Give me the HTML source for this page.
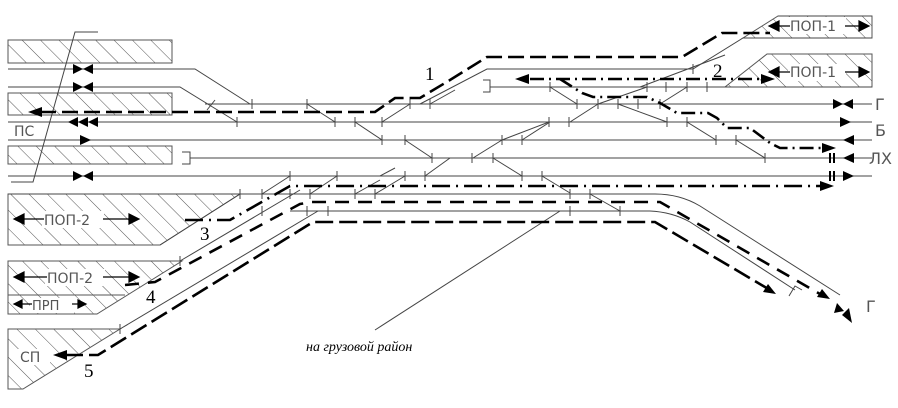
<!DOCTYPE html>
<html><head><meta charset="utf-8"><style>
html,body{margin:0;padding:0;background:#fff;}
svg{display:block;}
.t{stroke:#444;stroke-width:1;fill:none;}
.r{stroke:#000;stroke-width:2.6;fill:none;}
.lb{font-family:"DejaVu Sans","Liberation Sans",sans-serif;font-size:14px;fill:#555;}
.n{font-family:"Liberation Serif",serif;font-size:19px;fill:#000;}
</style></head><body>
<svg width="898" height="408" viewBox="0 0 898 408" xmlns="http://www.w3.org/2000/svg">
<defs>
<pattern id="h" width="13" height="13" patternUnits="userSpaceOnUse" patternTransform="rotate(-45)">
<line x1="0" y1="0" x2="0" y2="13" stroke="#555" stroke-width="1"/>
</pattern>
</defs>
<!-- hatched areas -->
<g stroke="#555" stroke-width="1">
<rect x="8" y="40" width="164" height="23" fill="url(#h)"/>
<rect x="8" y="93" width="164" height="22" fill="url(#h)"/>
<rect x="8" y="146" width="164" height="18" fill="url(#h)"/>
<polygon points="8,194 240,194 160,245 8,245" fill="url(#h)"/>
<polygon points="8,261 182,261 97,314 8,314" fill="url(#h)"/>
<line x1="8" y1="295" x2="125" y2="295"/>
<polygon points="8,329 120,329 23,389 8,389" fill="url(#h)"/>
<polygon points="778,16 872,16 872,38 743,38" fill="url(#h)"/>
<polygon points="767,54 872,54 872,87 725,87" fill="url(#h)"/>
</g>
<!-- white boxes behind labels -->
<g fill="#fff">
<rect x="42" y="211" width="62" height="17"/><rect x="45" y="269" width="60" height="17"/>
<rect x="30" y="298" width="44" height="15"/><rect x="18" y="349" width="32" height="16"/>
<rect x="788" y="17" width="58" height="17"/><rect x="788" y="64" width="58" height="17"/>
</g>
<!-- tracks -->
<g class="t">
<polyline points="8,69 195,69 250,104"/>
<polyline points="8,87 180,87 237,122"/>
<line x1="205" y1="104" x2="872" y2="104"/>
<line x1="8" y1="122" x2="872" y2="122"/>
<line x1="8" y1="140" x2="872" y2="140"/>
<polyline points="182,152 190,152 190,164 182,164"/>
<line x1="190" y1="158" x2="872" y2="158"/>
<line x1="8" y1="176" x2="872" y2="176"/>
<line x1="8" y1="194" x2="655" y2="194"/>
<path d="M655,194 Q680,194 700,206 L840,295"/>
<line x1="290" y1="211" x2="650" y2="211"/>
<path d="M650,211 Q672,212 690,222 L795,290"/>
<polyline points="789,296 795,286 802,290"/>
<line x1="180" y1="261" x2="300" y2="190"/>
<line x1="120" y1="329" x2="318" y2="211"/>
<line x1="160" y1="245" x2="240" y2="194"/>
<polyline points="483,80 490,80 490,92 483,92"/>
<line x1="490" y1="87" x2="872" y2="87"/>
<polyline points="420,104 487,69 693,69 743,38 872,38"/>
<line x1="640" y1="87" x2="725" y2="55"/>
<line x1="872" y1="16" x2="778" y2="16"/>
<!-- vertical slant -->
<polyline points="98,32 75,32 33,182 11,182"/>
<!-- leader -->
<line x1="560" y1="211" x2="375" y2="330"/>
<!-- switch diagonals -->
<line x1="207" y1="110" x2="215" y2="100"/>
<line x1="307" y1="104" x2="335" y2="122"/>
<line x1="355" y1="122" x2="382" y2="140"/>
<line x1="382" y1="122" x2="410" y2="104"/>
<line x1="430" y1="104" x2="455" y2="90"/>
<line x1="405" y1="140" x2="432" y2="158"/>
<line x1="262" y1="194" x2="290" y2="176"/>
<line x1="310" y1="194" x2="337" y2="176"/>
<line x1="375" y1="194" x2="405" y2="176"/>
<line x1="425" y1="176" x2="450" y2="158"/>
<line x1="550" y1="87" x2="577" y2="104"/>
<line x1="598" y1="104" x2="647" y2="87"/>
<line x1="660" y1="104" x2="687" y2="87"/>
<line x1="618" y1="104" x2="667" y2="122"/>
<line x1="687" y1="122" x2="716" y2="140"/>
<line x1="736" y1="140" x2="765" y2="158"/>
<line x1="570" y1="122" x2="598" y2="104"/>
<line x1="502" y1="140" x2="549" y2="122"/>
<line x1="522" y1="140" x2="550" y2="122"/>
<line x1="473" y1="158" x2="502" y2="140"/>
<line x1="493" y1="158" x2="522" y2="176"/>
<line x1="542" y1="176" x2="570" y2="193"/>
<line x1="590" y1="194" x2="620" y2="211"/>
<line x1="355" y1="194" x2="380" y2="180"/>
<line x1="380" y1="176" x2="395" y2="168"/>
</g>
<!-- ticks -->
<g stroke="#444" stroke-width="1">
<path d="M252,99v10M307,99v10M410,99v10M430,99v10M577,99v10M598,99v10M618,99v10M638,99v10M660,99v10
M237,117v10M335,117v10M355,117v10M382,117v10M549,117v10M569,117v10M667,117v10M687,117v10
M382,135v10M405,135v10M502,135v10M522,135v10M716,135v10M736,135v10
M432,153v10M472,153v10M493,153v10M765,153v10
M290,171v10M337,171v10M405,171v10M425,171v10M522,171v10M542,171v10
M240,189v10M262,189v10M290,189v10M310,189v10M355,189v10M375,189v10M570,189v10M590,189v10
M262,206v10M307,206v10M328,206v10M570,206v10M620,206v10
M550,82v10M647,82v10M666,82v10M687,82v10M707,82v10M693,64v10
M180,256v10M120,324v10"/>
</g>
<!-- track-end arrows -->
<g fill="#000">
<polygon points="73,64 73,74 83,69"/><polygon points="93,64 93,74 83,69"/>
<polygon points="73,82 73,92 83,87"/><polygon points="93,82 93,92 83,87"/>
<polygon points="68,122 78,117 78,127"/><polygon points="78,122 88,117 88,127"/><polygon points="88,122 98,117 98,127"/>
<polygon points="80,135 80,145 91,140"/>
<polygon points="73,171 73,181 83,176"/><polygon points="93,171 93,181 83,176"/>
<polygon points="833,99 833,109 843,104"/><polygon points="853,99 853,109 843,104"/>
<polygon points="840,117 840,127 851,122"/>
<polygon points="843,140 854,135 854,145"/>
<polygon points="843,158 854,153 854,163"/>
<polygon points="843,171 843,181 854,176"/>
<rect x="829" y="153" width="2" height="10"/><rect x="833" y="153" width="2" height="10"/>
<rect x="829" y="171" width="2" height="10"/><rect x="833" y="171" width="2" height="10"/>
<polygon points="834,313 837,303 844,311"/><polygon points="852,323 842,315 849,308"/>
</g>
<!-- label arrows -->
<g stroke="#000" stroke-width="1.2" fill="#000">
<line x1="15" y1="219" x2="44" y2="219"/><polygon points="14,219 24,214 24,224"/>
<line x1="103" y1="219" x2="138" y2="219"/><polygon points="139,219 129,214 129,224"/>
<line x1="15" y1="277" x2="47" y2="277"/><polygon points="14,277 24,272 24,282"/>
<line x1="103" y1="277" x2="138" y2="277"/><polygon points="139,277 129,272 129,282"/>
<line x1="15" y1="304" x2="32" y2="304"/><polygon points="14,304 22,300 22,308"/>
<line x1="72" y1="304" x2="85" y2="304"/><polygon points="86,304 78,300 78,308"/>
<line x1="770" y1="26" x2="790" y2="26"/><polygon points="769,26 779,21 779,31"/>
<line x1="845" y1="26" x2="868" y2="26"/><polygon points="869,26 859,21 859,31"/>
<line x1="770" y1="72" x2="790" y2="72"/><polygon points="769,72 779,67 779,77"/>
<line x1="845" y1="72" x2="868" y2="72"/><polygon points="869,72 859,67 859,77"/>
</g>
<!-- routes -->
<g class="r">
<polyline stroke-dasharray="16,6" points="40,112 375,112 395,98 420,98 450,80 487,57 682,57 722,33 770,33"/>
<polyline stroke-dasharray="14,5,2,5" points="530,79 760,79"/>
<polyline stroke-dasharray="14,5,2,5" points="560,79 582,93 593,97 647,97 660,103 677,113 708,113 717,118 727,128 750,128 770,143 780,148 825,148"/>
<polyline stroke-dasharray="18,6,2,6" points="185,220 230,220 290,186 825,186"/>
<polyline stroke-dasharray="14,9" points="125,285 155,282 300,204 312,202 660,202 820,294"/>
<polyline stroke-dasharray="18,6" points="65,355 98,355 313,222 655,222 770,290"/>
</g>
<g fill="#000">
<polygon points="28,112 42,107 42,117"/>
<polygon points="515,79 529,74 529,84"/>
<polygon points="775,79 761,74 761,84"/>
<polygon points="836,148 822,143 822,153"/>
<polygon points="834,186 820,181 820,191"/>
<polygon points="830,299 817,297 822,289"/>
<polygon points="776,294 763,292 768,284"/>
<polygon points="53,355 67,350 67,360"/>
</g>
<!-- labels -->
<text class="lb" x="14" y="136">ПС</text>
<text class="lb" x="44" y="225">ПОП-2</text>
<text class="lb" x="47" y="283">ПОП-2</text>
<text class="lb" x="32" y="310" style="font-size:13px">ПРП</text>
<text class="lb" x="20" y="362">СП</text>
<text class="lb" x="790" y="31">ПОП-1</text>
<text class="lb" x="790" y="77">ПОП-1</text>
<text class="lb" x="875" y="110" style="font-size:16px">Г</text>
<text class="lb" x="875" y="136" style="font-size:16px">Б</text>
<text class="lb" x="869" y="164" style="font-size:16px">ЛХ</text>
<text class="lb" x="866" y="312" style="font-size:16px">Г</text>
<text class="n" x="425" y="80">1</text>
<text class="n" x="713" y="77">2</text>
<text class="n" x="200" y="240">3</text>
<text class="n" x="146" y="303">4</text>
<text class="n" x="84" y="377">5</text>
<text x="306" y="351" style="font-family:'Liberation Serif',serif;font-style:italic;font-size:14px;fill:#000">на грузовой район</text>
</svg>
</body></html>
